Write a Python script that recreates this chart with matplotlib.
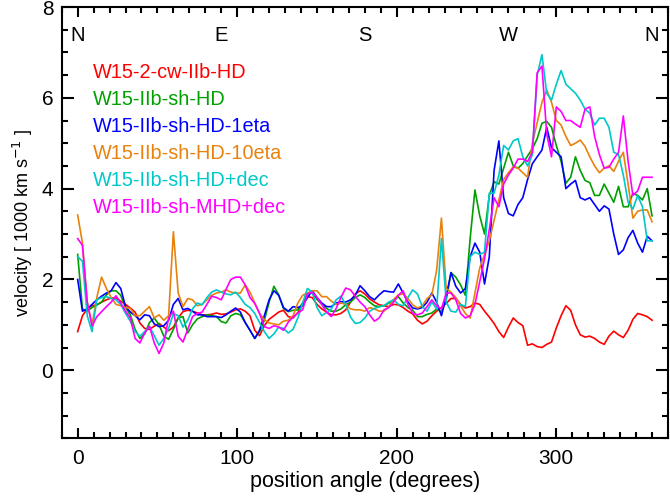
import numpy as np
import matplotlib.pyplot as plt
from matplotlib.ticker import MultipleLocator

plt.rcParams['font.family'] = ['Liberation Sans', 'DejaVu Sans']

# position angle grid (degrees)
angle = np.arange(0, 361, 3)

labels = ['W15-2-cw-IIb-HD', 'W15-IIb-sh-HD', 'W15-IIb-sh-HD-1eta',
          'W15-IIb-sh-HD-10eta', 'W15-IIb-sh-HD+dec', 'W15-IIb-sh-MHD+dec']
colors = ['#ff0000', '#00a000', '#0000ff', '#e8820c', '#00c8c8', '#ff00ff']

# velocities in 1000 km/s, every 3 degrees
v_red = [0.85, 1.2, 1.35, 1.42, 1.44, 1.5, 1.55, 1.59, 1.59, 1.52, 1.45, 1.37, 1.28, 1.04, 0.92, 0.9,
         0.97, 1.03, 0.95, 0.87, 0.95, 1.15, 1.29, 1.32, 1.3, 1.26, 1.22, 1.22, 1.23, 1.26, 1.23, 1.24,
         1.28, 1.33, 1.35, 1.3, 1.2, 0.88, 0.76, 0.98, 1.12, 1.2, 1.28, 1.32, 1.18, 1.15, 1.27, 1.45,
         1.62, 1.6, 1.45, 1.35, 1.28, 1.22, 1.22, 1.25, 1.33, 1.5, 1.68, 1.75, 1.68, 1.57, 1.5, 1.44,
         1.42, 1.4, 1.45, 1.44, 1.38, 1.3, 1.24, 1.1, 1.02, 1.08, 1.2, 1.3, 1.38, 1.47, 1.58, 1.58,
         1.45, 1.37, 1.4, 1.48, 1.45, 1.3, 1.17, 1.03, 0.85, 0.72, 0.95, 1.15, 1.05, 0.98, 0.55, 0.58,
         0.52, 0.5, 0.57, 0.62, 0.93, 1.2, 1.42, 1.32, 1.0, 0.78, 0.73, 0.75, 0.7, 0.62, 0.57, 0.75,
         0.86, 0.78, 0.72, 0.88, 1.12, 1.25, 1.22, 1.18, 1.1]
v_green = [2.55, 1.35, 1.3, 1.38, 1.44, 1.5, 1.66, 1.75, 1.75, 1.65, 1.38, 1.22, 0.9, 0.7, 0.8, 1.05,
           1.15, 1.0, 0.75, 0.68, 0.9, 1.15, 1.18, 0.82, 1.0, 1.13, 1.18, 1.22, 1.2, 1.18, 1.07, 1.04,
           1.2, 1.25, 1.22, 1.05, 0.88, 0.7, 0.85, 1.1, 1.5, 1.85, 1.66, 1.36, 1.29, 1.32, 1.33, 1.48,
           1.7, 1.7, 1.56, 1.45, 1.36, 1.3, 1.3, 1.35, 1.44, 1.5, 1.6, 1.66, 1.6, 1.5, 1.42, 1.4,
           1.42, 1.48, 1.53, 1.62, 1.48, 1.38, 1.32, 1.18, 1.18, 1.23, 1.26, 1.35, 1.28, 1.55, 2.15, 2.05,
           1.88, 1.65, 2.9, 3.97, 3.4, 3.0, 3.85, 4.15, 4.1, 4.45, 4.8, 4.5, 4.45, 4.55, 4.72, 4.88,
           5.1, 5.44, 5.48, 5.35, 4.95, 4.6, 4.12, 4.25, 4.7, 4.4, 4.18, 4.13, 3.85, 3.85, 4.1, 3.9,
           3.7, 4.05, 3.6, 3.6, 3.9, 3.85, 3.75, 4.0, 3.4]
v_blue = [2.0, 1.3, 1.35, 1.45, 1.55, 1.63, 1.7, 1.75, 1.93, 1.8, 1.4, 1.28, 1.2, 1.11, 1.22, 1.2,
          1.02, 0.96, 0.98, 1.1, 1.45, 1.58, 1.33, 1.36, 1.3, 1.22, 1.22, 1.18, 1.18, 1.18, 1.16, 1.22,
          1.3, 1.37, 1.28, 1.05, 0.88, 0.7, 0.88, 1.2, 1.55, 1.75, 1.65, 1.38, 1.3, 1.4, 1.38, 1.42,
          1.6, 1.75, 1.6, 1.48, 1.4, 1.4, 1.48, 1.51, 1.5, 1.55, 1.65, 1.86, 1.75, 1.62, 1.55, 1.66,
          1.75, 1.73, 1.72, 1.9, 1.7, 1.5, 1.37, 1.35, 1.38, 1.5, 1.7, 1.5, 1.2, 1.62, 2.15, 1.85,
          1.7, 1.8, 2.5, 2.8, 2.6, 1.9, 2.5, 4.4, 5.05, 3.8, 3.45, 3.4, 3.65, 3.8, 4.2, 4.55,
          4.7, 4.85, 5.35, 4.9, 4.8, 4.7, 4.0, 4.1, 4.18, 3.8, 3.75, 3.8, 3.65, 3.5, 3.62, 3.55,
          3.0, 2.55, 2.65, 2.92, 3.08, 2.8, 2.6, 2.95, 2.85]
v_orange = [3.42, 2.8, 1.5, 1.0, 1.6, 2.05, 1.8, 1.6, 1.45, 1.42, 1.38, 1.36, 1.2, 1.2, 1.3, 1.4,
            1.15, 1.22, 1.1, 1.2, 3.05, 1.7, 1.4, 1.58, 1.55, 1.42, 1.45, 1.55, 1.65, 1.7, 1.72, 1.77,
            1.72, 1.7, 1.7, 1.88, 1.72, 1.48, 1.25, 1.11, 1.04, 1.02, 1.0, 1.08, 1.1, 1.2, 1.48, 1.65,
            1.7, 1.75, 1.75, 1.62, 1.62, 1.52, 1.45, 1.48, 1.45, 1.35, 1.33, 1.33, 1.3, 1.38, 1.35, 1.3,
            1.3, 1.4, 1.56, 1.66, 1.68, 1.58, 1.44, 1.37, 1.42, 1.58, 1.66, 2.2, 3.35, 1.8, 1.72, 1.6,
            1.42, 1.25, 1.15, 1.7, 2.25, 2.55, 2.85, 3.3, 3.75, 4.2, 4.35, 4.48, 4.45, 4.35, 4.25, 5.0,
            5.45, 5.9, 6.17, 5.9, 5.5, 5.4, 5.15, 4.95, 5.0, 5.07, 4.93, 4.7, 4.5, 4.35, 4.45, 4.5,
            4.38, 4.6, 4.8, 4.1, 3.35, 3.5, 3.53, 3.53, 3.27]
v_cyan = [2.5, 2.4, 1.2, 0.85, 1.55, 1.6, 1.62, 1.58, 1.55, 1.45, 1.25, 1.08, 0.85, 0.75, 0.85, 0.96,
          0.76, 0.55, 0.7, 0.92, 1.25, 1.2, 0.95, 1.1, 1.35, 1.48, 1.44, 1.6, 1.72, 1.77, 1.72, 1.68,
          1.66, 1.72, 1.6, 1.45, 1.38, 1.25, 1.05, 0.85, 0.7, 0.8, 0.95, 0.92, 0.82, 0.9, 1.15, 1.48,
          1.8, 1.72, 1.38, 1.2, 1.27, 1.35, 1.55, 1.63, 1.45, 1.17, 1.03, 1.05, 1.15, 1.3, 1.36, 1.4,
          1.42, 1.5, 1.55, 1.45, 1.42, 1.6, 1.77, 1.68, 1.4, 1.3, 1.5, 1.35, 2.9, 1.5, 1.3, 1.28,
          1.45, 1.4, 2.5, 2.6, 2.55, 2.6, 3.9, 3.9, 4.3, 4.95, 4.85, 5.05, 5.1, 4.7, 4.5, 4.75,
          6.5, 6.95, 6.1, 5.95, 6.3, 6.6, 6.3, 6.2, 6.1, 5.95, 5.75, 5.66, 5.4, 5.55, 5.55, 5.35,
          4.8, 4.75, 4.3, 3.7, 3.55, 3.85, 3.6, 2.85, 2.85]
v_magenta = [2.9, 2.75, 1.5, 0.97, 1.18, 1.29, 1.4, 1.5, 1.64, 1.48, 1.3, 1.15, 0.7, 0.6, 0.82, 0.97,
             0.6, 0.37, 0.6, 1.15, 1.3, 0.75, 0.62, 0.9, 1.18, 1.25, 1.28, 1.45, 1.63, 1.6, 1.55, 1.78,
             2.0, 2.05, 2.05, 1.88, 1.6, 1.47, 1.25, 0.96, 0.92, 0.98, 0.95, 0.88, 1.06, 1.17, 1.26, 1.33,
             1.68, 1.72, 1.6, 1.45, 1.28, 1.18, 1.36, 1.6, 1.81, 1.77, 1.63, 1.5, 1.4, 1.22, 1.08, 1.15,
             1.33, 1.38, 1.5, 1.65, 1.75, 1.45, 1.25, 1.22, 1.26, 1.4, 1.55, 1.42, 1.35, 1.7, 1.7, 1.55,
             1.25, 1.15, 1.2, 1.45, 1.95, 2.45, 3.1, 3.8, 3.6, 4.1, 4.3, 4.45, 4.65, 4.65, 4.6, 4.8,
             6.55, 6.7, 5.2, 4.7, 5.8, 5.7, 5.5, 5.5, 5.42, 5.35, 5.75, 5.8, 5.15, 4.75, 4.45, 4.47,
             4.65, 4.8, 5.6, 4.6, 3.85, 3.95, 4.25, 4.25, 4.25]

series = [v_red, v_green, v_blue, v_orange, v_cyan, v_magenta]

compass = ['N', 'E', 'S', 'W', 'N']
compass_pos = [0, 90, 180, 270, 360]

fig = plt.figure(figsize=(6.7, 4.97), dpi=100)
ax = fig.add_axes([0.0921, 0.1181, 0.9049, 0.8678])

for vals, col in zip(series, colors):
    ax.plot(angle, vals, color=col, lw=1.2)

# coloured text legend
for i, (lab, col) in enumerate(zip(labels, colors)):
    ax.text(0.052, 0.847 - i * 0.0626, lab, color=col, fontsize=14.3,
            transform=ax.transAxes, va='center', ha='left')

for lab, pos in zip(compass, compass_pos):
    ax.text(pos, 0.933, lab, fontsize=14.5, ha='center', va='center',
            transform=ax.get_xaxis_transform())

ax.set_xlim(-10, 370)
ax.set_ylim(-1.5, 8)
ax.set_xticks([0, 100, 200, 300])
ax.set_yticks([0, 2, 4, 6, 8])
ax.xaxis.set_minor_locator(MultipleLocator(10))
ax.yaxis.set_minor_locator(MultipleLocator(0.5))
ax.tick_params(which='both', direction='in', top=True, right=True, width=1.5, labelsize=15)
ax.tick_params(axis='y', which='major', length=8.5, pad=6)
ax.tick_params(axis='y', which='minor', length=4.5)
ax.tick_params(axis='x', which='major', length=7, pad=8)
ax.tick_params(axis='x', which='minor', length=4)
for sp in ax.spines.values():
    sp.set_linewidth(1.5)

ax.set_xlabel('position angle (degrees)', fontsize=15.5, labelpad=2)
ax.set_ylabel('velocity [ 1000 km s$^{-1}$ ]', fontsize=13, labelpad=5)

fig.savefig('out.png', dpi=100)
